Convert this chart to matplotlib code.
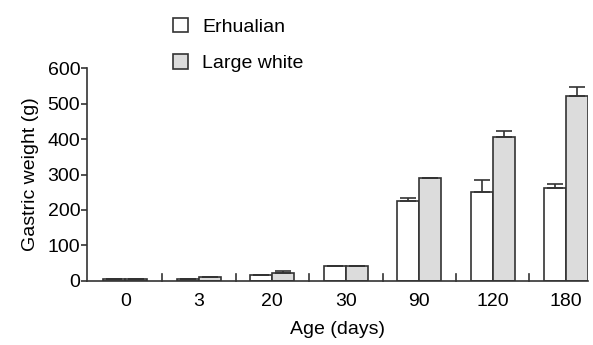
import matplotlib
matplotlib.use("Agg")
import matplotlib.pyplot as plt
import numpy as np
from matplotlib.patches import Patch

plt.rcParams['font.family'] = ['Liberation Sans', 'DejaVu Sans']

ages = ['0', '3', '20', '30', '90', '120', '180']
erhualian = [6, 5, 17, 41, 226, 251, 262]
erhualian_err = [0, 0, 0, 0, 8, 34, 12]
large_white = [6, 11, 22, 41, 290, 406, 522]
large_white_err = [0, 0, 6, 0, 0, 17, 25]

edge = '#333333'
x = np.arange(len(ages))
w = 0.3

fig = plt.figure(figsize=(5.93, 3.45), dpi=100)
ax = fig.add_axes([0.147, 0.186, 0.845, 0.616])

ax.bar(x - w / 2, erhualian, w, color='white', edgecolor=edge, linewidth=1.2,
       yerr=[np.zeros(len(ages)), erhualian_err], capsize=6,
       error_kw=dict(ecolor=edge, elinewidth=1.2, capthick=1.2))
ax.bar(x + w / 2, large_white, w, color='#dcdcdc', edgecolor=edge, linewidth=1.2,
       yerr=[np.zeros(len(ages)), large_white_err], capsize=6,
       error_kw=dict(ecolor=edge, elinewidth=1.2, capthick=1.2))

# short separators between groups
for s in x[:-1] + 0.5:
    ax.plot([s, s], [0, 20], color=edge, lw=1.2, clip_on=False)

ax.set_xlim(-0.52, 6.3)
ax.set_ylim(0, 600)
ax.set_yticks(range(0, 601, 100))
ax.set_xticks(x)
ax.set_xticklabels(ages)
ax.tick_params(axis='x', length=0, pad=9, labelsize=14)
ax.tick_params(axis='y', length=4, width=1.2, color=edge, labelsize=14, pad=1)
for side in ['top', 'right']:
    ax.spines[side].set_visible(False)
for side in ['left', 'bottom']:
    ax.spines[side].set_color(edge)
    ax.spines[side].set_linewidth(1.2)

ax.set_xlabel('Age (days)', fontsize=14, labelpad=8)
ax.set_ylabel('Gastric weight (g)', fontsize=14, labelpad=6)

handles = [Patch(facecolor='white', edgecolor=edge, linewidth=1.2),
           Patch(facecolor='#dcdcdc', edgecolor=edge, linewidth=1.2)]
fig.legend(handles, ['Erhualian', 'Large white'], loc='upper left',
           bbox_to_anchor=(0.262, 1.0), frameon=False, fontsize=14,
           handlelength=0.8, handleheight=0.8, handletextpad=0.7,
           labelspacing=0.95)

fig.savefig('out.png', dpi=100)
